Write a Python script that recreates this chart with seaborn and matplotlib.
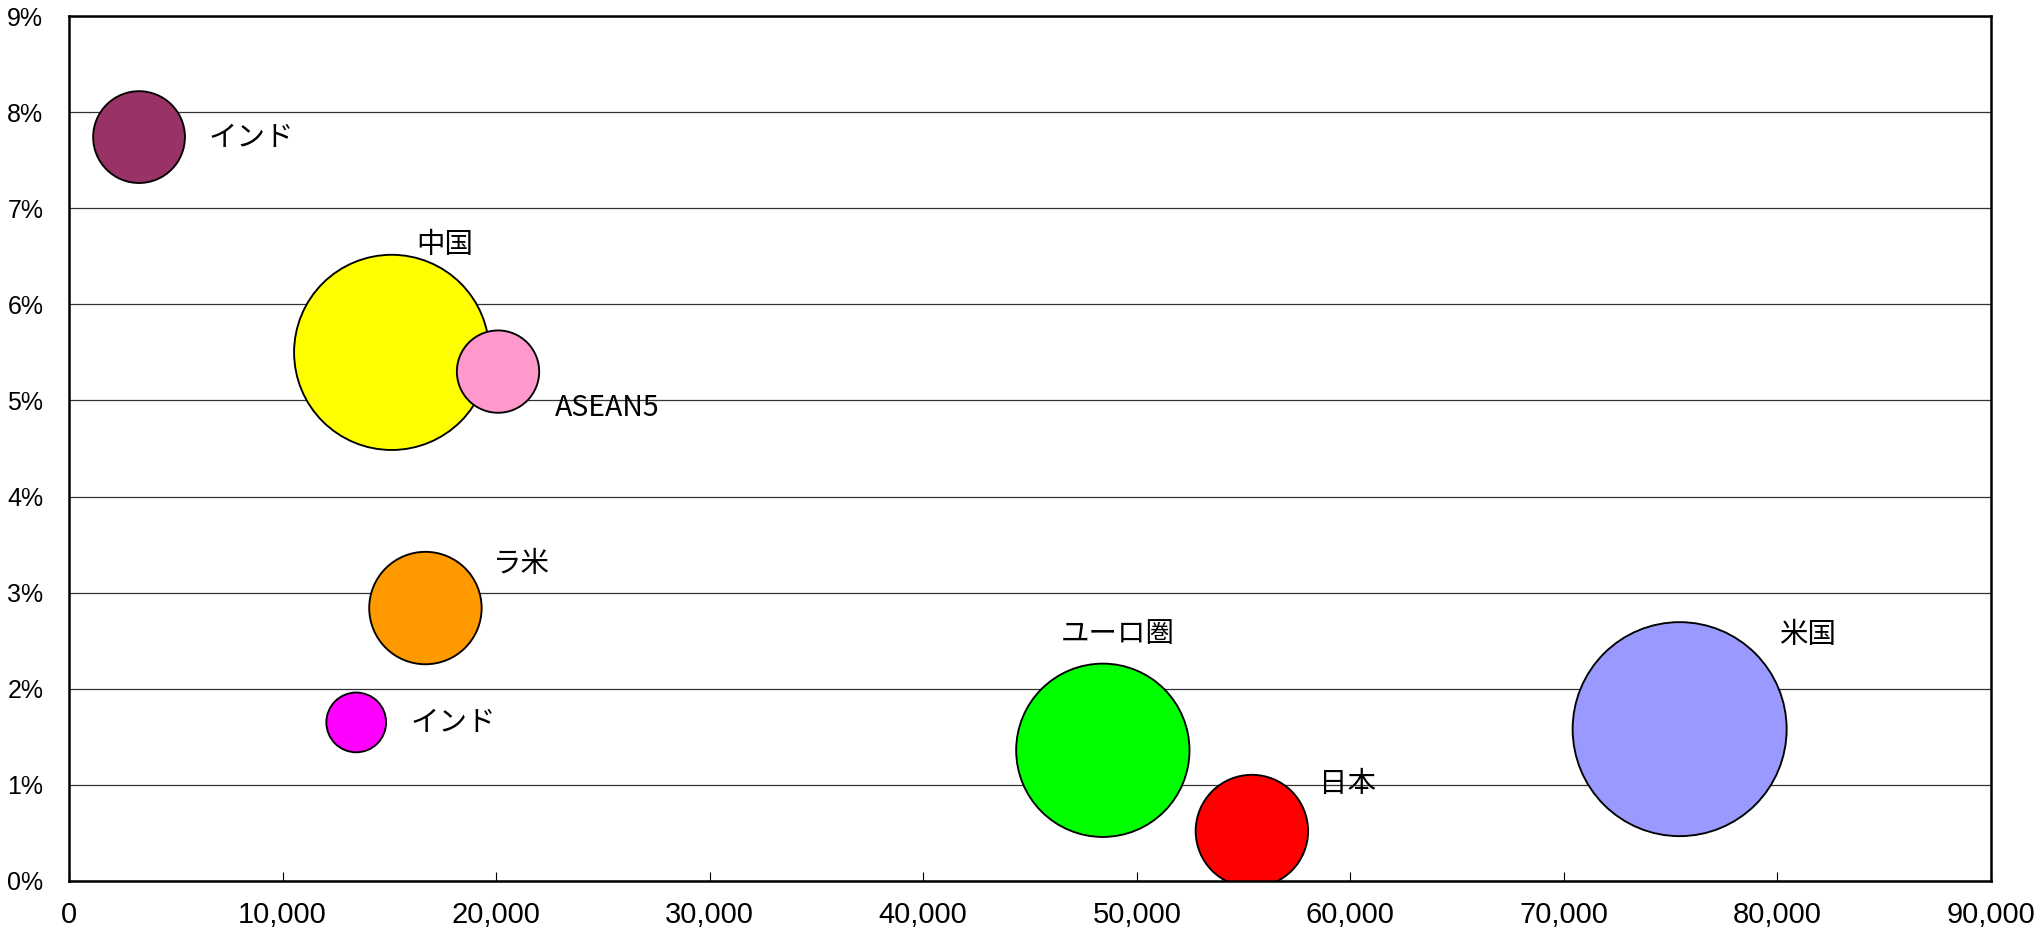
import matplotlib
matplotlib.use("Agg")
import matplotlib.pyplot as plt
from matplotlib.ticker import FuncFormatter
import seaborn as sns
import pandas as pd

# Bubble data: x = income level, y = growth rate (%), size = economy size
keys = ["india_a", "china", "asean5", "latam", "india_b", "euro", "japan", "us"]
labels = ["インド", "中国", "ASEAN5", "ラ米", "インド", "ユーロ圏", "日本", "米国"]
x_vals = [3280, 15110, 20090, 16690, 13450, 48410, 55390, 75420]
y_vals = [7.74, 5.50, 5.30, 2.84, 1.65, 1.36, 0.52, 1.58]
size_vals = [4.6, 20.8, 3.7, 6.9, 1.95, 16.4, 6.9, 25.0]
colors = ["#993366", "#FFFF00", "#FF99CC", "#FF9900", "#FF00FF", "#00FF00", "#FF0000", "#9999FF"]

# label offsets from bubble centres, in points (left edge of text, vertical centre)
label_offsets = [(50, -0.7), (18, 77), (41, -26), (48, 32), (39, -0.7), (-30.5, 84), (48.6, 33.5), (71.6, 67.7)]

x_ticks = list(range(0, 90001, 10000))
y_ticks = list(range(0, 10))

df = pd.DataFrame({"key": keys, "x": x_vals, "y": y_vals, "size": size_vals})

sns.set_style("white")
plt.rcParams["font.family"] = ["Liberation Sans", "Noto Sans CJK JP", "DejaVu Sans"]
plt.rcParams["text.color"] = "black"
plt.rcParams["xtick.color"] = "black"
plt.rcParams["ytick.color"] = "black"

fig = plt.figure(figsize=(20.41, 9.34), dpi=100)
ax = fig.add_axes([69 / 2041, 53 / 934, (1991 - 69) / 2041, (881 - 16) / 934])

max_marker = (214 / (100 / 72)) ** 2
sns.scatterplot(
    data=df, x="x", y="y", hue="key", size="size",
    palette=dict(zip(keys, colors)),
    sizes=(0, max_marker), size_norm=(0, max(size_vals)),
    edgecolor="black", linewidth=1.35, alpha=1, legend=False, ax=ax, zorder=3,
)

for xv, yv, lab, (dx, dy) in zip(x_vals, y_vals, labels, label_offsets):
    ax.annotate(lab, xy=(xv, yv), xytext=(dx, dy), textcoords="offset points",
                ha="left", va="center", fontsize=20.5, color="black",
                family=["Noto Sans CJK JP", "Liberation Sans"], zorder=4)

ax.set_xlim(0, 90000)
ax.set_ylim(0, 9)
ax.set_xticks(x_ticks)
ax.set_yticks(y_ticks)
ax.xaxis.set_major_formatter(FuncFormatter(lambda v, p: f"{v:,.0f}"))
ax.yaxis.set_major_formatter(FuncFormatter(lambda v, p: f"{v:.0f}%"))
ax.set_xlabel("")
ax.set_ylabel("")

ax.grid(axis="y", color="#333333", linewidth=0.9)
ax.grid(axis="x", visible=False)
ax.set_axisbelow(True)

for side in ["left", "bottom", "top", "right"]:
    ax.spines[side].set_visible(True)
    ax.spines[side].set_color("black")
    ax.spines[side].set_linewidth(1.8)
    ax.spines[side].set_zorder(5)

ax.tick_params(axis="x", direction="in", length=6.7, width=0.8, color="black",
               labelsize=21, labelcolor="black", pad=14.5, bottom=True)
ax.tick_params(axis="y", length=0, labelsize=18, labelcolor="black", pad=18.5, left=True)

fig.savefig("out.png", dpi=100)
